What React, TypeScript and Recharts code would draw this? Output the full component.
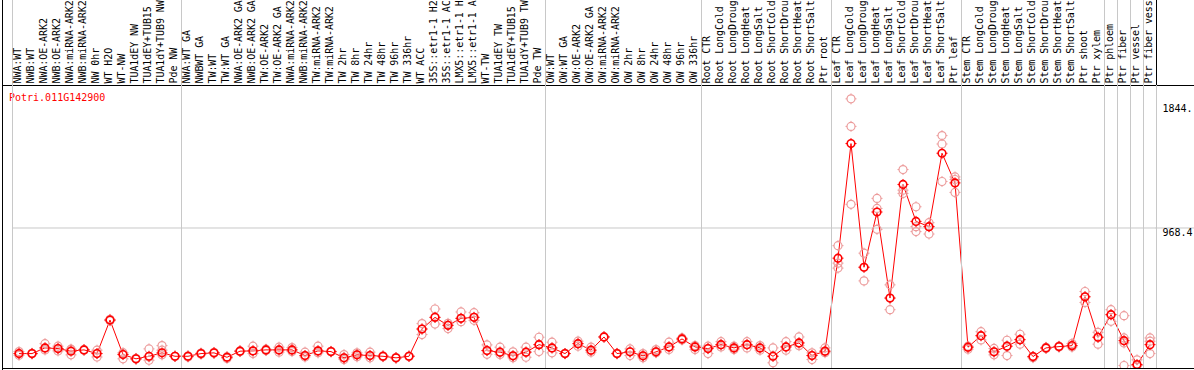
import { ComposedChart, Line, Scatter, XAxis, YAxis, ReferenceLine } from "recharts"

const geneId = "Potri.011G142900"

// sample names as they appear in the fixed-width header (cut to 14 chars)
const samples = [
  "NWA:WT", "NWB:WT", "NWA:OE-ARK2", "NWB:OE-ARK2", "NWA:miRNA-ARK2", "NWB:miRNA-ARK2",
  "NW 0hr", "WT H2O", "WT-NW", "TUA1dEY NW", "TUA1dEY+TUB15", "TUA1dY+TUB9 NW", "Pde NW",
  "NWA:WT GA", "NWBWT GA", "TW:WT", "TW:WT GA", "NWA:OE-ARK2 GA", "NWB:OE-ARK2 GA",
  "TW:OE-ARK2", "TW:OE-ARK2 GA", "NWA:miRNA-ARK2", "NWB:miRNA-ARK2", "TW:miRNA-ARK2",
  "TW:miRNA-ARK2", "TW 2hr", "TW 8hr", "TW 24hr", "TW 48hr", "TW 96hr", "TW 336hr",
  "WT ACC", "35S::etr1-1 H2", "35S::etr1-1 AC", "LMX5::etr1-1 H", "LMX5::etr1-1 A",
  "WT-TW", "TUA1dEY TW", "TUA1dEY+TUB15", "TUA1dY+TUB9 TW", "Pde TW",
  "OW:WT", "OW:WT GA", "OW:OE-ARK2", "OW:OE-ARK2 GA", "OW:miRNA-ARK2", "OW:miRNA-ARK2",
  "OW 2hr", "OW 8hr", "OW 24hr", "OW 48hr", "OW 96hr", "OW 336hr",
  "Root CTR", "Root LongCold", "Root LongDroug", "Root LongHeat", "Root LongSalt",
  "Root ShortCold", "Root ShortDrou", "Root ShortHeat", "Root ShortSalt", "Ptr root",
  "Leaf CTR", "Leaf LongCold", "Leaf LongDroug", "Leaf LongHeat", "Leaf LongSalt",
  "Leaf ShortCold", "Leaf ShortDrou", "Leaf ShortHeat", "Leaf ShortSalt", "Ptr leaf",
  "Stem CTR", "Stem LongCold", "Stem LongDroug", "Stem LongHeat", "Stem LongSalt",
  "Stem ShortCold", "Stem ShortDrou", "Stem ShortHeat", "Stem ShortSalt", "Ptr shoot",
  "Ptr xylem", "Ptr phloem", "Ptr fiber", "Ptr vessel", "Ptr fiber vess",
]

const means = [
  84, 84, 124, 119, 101, 110, 84, 320, 77, 47, 65, 89, 65,
  65, 84, 89, 58, 101, 103, 110, 110, 110, 70, 103, 98, 54, 75, 70, 65, 54, 65,
  257, 339, 283, 332, 339, 105, 94, 68, 94, 147,
  124, 84, 154, 108, 201, 84, 96, 68, 96, 131, 187, 131,
  119, 147, 124, 147, 124, 65, 131, 159, 70, 101,
  756, 1563, 692, 1081, 475, 1275, 1015, 978, 1495, 1286,
  129, 210, 96, 136, 182, 63, 124, 133, 140, 484, 199,
  358, 175, 7, 147,
]

const replicates = [
  [98, 72, 84], [84, 82, 86], [154, 110, 124], [136, 103, 119], [115, 75, 113],
  [112, 108, 110], [108, 60, 84], [325, 315, 320], [47, 90, 80], [50, 45, 47],
  [117, 37, 60], [140, 108, 75], [65, 65, 65],
  [65, 68, 60], [84, 80, 88], [89, 86, 92], [50, 58, 62], [101, 98, 104],
  [136, 84, 103], [110, 105, 115], [129, 94, 110], [126, 98, 110], [94, 70, 60],
  [136, 89, 103], [98, 100, 96], [77, 42, 54], [89, 61, 75], [94, 54, 70],
  [65, 62, 68], [54, 52, 56], [65, 63, 67], [295, 218, 257], [398, 292, 339],
  [297, 260, 283], [377, 309, 332], [372, 318, 339], [145, 79, 105], [129, 77, 94],
  [96, 54, 68], [129, 58, 94], [199, 98, 147],
  [164, 89, 124], [84, 84, 84], [171, 136, 154], [129, 94, 108], [201, 201, 201],
  [84, 82, 86], [117, 70, 96], [84, 54, 68], [112, 96, 90], [164, 112, 131],
  [194, 180, 187], [140, 112, 131],
  [136, 84, 119], [168, 131, 147], [136, 112, 124], [168, 124, 147], [140, 108, 124],
  [124, 19, 65], [168, 108, 131], [201, 140, 159], [89, 42, 70], [124, 100, 90],
  [844, 721, 686], [1878, 1684, 1135], [791, 596, 692], [1177, 1106, 959],
  [568, 393, 475], [1380, 1235, 1212], [1118, 978, 943], [1006, 926, 978],
  [1619, 1560, 1296], [1328, 1310, 1219],
  [136, 115, 129], [238, 180, 210], [120, 75, 96], [178, 70, 136], [220, 150, 182],
  [55, 60, 63], [124, 120, 128], [133, 130, 136], [155, 130, 140], [521, 444, 484],
  [234, 150, 199],
  [393, 311, 358], [351, 194, 159, 0], [40, 0, 0], [194, 171, 84],
]

// first sample index of each tissue block (a grey separator goes before it)
const groupStarts = [0, 13, 41, 53, 63, 73, 84, 85, 86, 87]
const yTicks = [0, 968.4, 1844.8]

const rows = means.map((mean, i) => ({ x: i, mean }))
const repPoints = replicates.flatMap((reps, i) => reps.map((y) => ({ x: i, y })))

const W = 1194
const H = 370
const MONO = "'DejaVu Sans Mono', monospace"
const GRID = "#c8c8c8"
const RED = "#ff0000"
const PINK = "#ec9c9c"
const COL = 13
const LABEL_H = 85
const PLOT_BOTTOM = 368

function SampleTick(props: any) {
  const { x, payload } = props
  const i = payload.value as number
  const left = x - COL / 2
  const right = x + COL / 2
  return (
    <g>
      {groupStarts.includes(i) && (
        <line x1={left} x2={left} y1={0} y2={PLOT_BOTTOM} stroke={GRID} />
      )}
      {i === samples.length - 1 && (
        <>
          <line x1={right} x2={right} y1={LABEL_H} y2={PLOT_BOTTOM} stroke={GRID} />
          <line x1={right} x2={right} y1={0} y2={LABEL_H} stroke="#000" />
        </>
      )}
      <text
        transform={`translate(${x + 2},${LABEL_H - 1.5}) rotate(-90)`}
        fontFamily={MONO}
        fontSize={10}
        letterSpacing={-0.08}
        fill="#000"
      >
        {samples[i]}
      </text>
    </g>
  )
}

function ValueTick(props: any) {
  const { x, y, payload } = props
  const v = payload.value as number
  return (
    <g>
      {v === 968.4 && <line x1={x - 7} x2={W} y1={y} y2={y} stroke={GRID} />}
      <text x={x} y={v === 0 ? y + 1.5 : y + 8.5} fontFamily={MONO} fontSize={10} fill="#000">
        {String(v).slice(0, 5)}
      </text>
    </g>
  )
}

function ticks(cx: number, cy: number, r1: number, r2: number, color: string) {
  return (
    <>
      <line x1={cx} x2={cx} y1={cy - r1} y2={cy - r2} stroke={color} />
      <line x1={cx} x2={cx} y1={cy + r1} y2={cy + r2} stroke={color} />
      <line x1={cx - r1} x2={cx - r2} y1={cy} y2={cy} stroke={color} />
      <line x1={cx + r1} x2={cx + r2} y1={cy} y2={cy} stroke={color} />
    </>
  )
}

function RepDot(props: any) {
  const { cx, cy } = props
  if (cx == null || cy == null) return null
  return (
    <g>
      <circle cx={cx} cy={cy} r={4} fill="none" stroke={PINK} strokeWidth={1.2} />
      {ticks(cx, cy, 4, 5.5, PINK)}
    </g>
  )
}

function MeanDot(props: any) {
  const { cx, cy, index } = props
  if (cx == null || cy == null) return null
  return (
    <g key={`m${index}`}>
      <circle cx={cx} cy={cy} r={3.8} fill="none" stroke={RED} strokeWidth={1.6} />
      {ticks(cx, cy, 3.8, 5.5, RED)}
    </g>
  )
}

export default function App() {
  return (
    <div style={{ width: W, height: H, background: "#fff" }}>
      <style>{"body{margin:0}"}</style>
      <ComposedChart
        width={W}
        height={H}
        data={rows}
        margin={{ top: 0, right: 0, bottom: H - PLOT_BOTTOM, left: 12.5 }}
      >
        <XAxis
          dataKey="x"
          type="number"
          orientation="top"
          domain={[-0.5, 87.5]}
          ticks={rows.map((r) => r.x)}
          interval={0}
          height={LABEL_H}
          axisLine={false}
          tickLine={false}
          tick={<SampleTick />}
          allowDataOverflow
        />
        <YAxis
          type="number"
          orientation="right"
          domain={[-17.6, 1975.5]}
          ticks={yTicks}
          width={37.5}
          axisLine={false}
          tickLine={false}
          tickSize={0}
          tickMargin={6}
          tick={<ValueTick />}
          allowDataOverflow
        />
        <ReferenceLine y={968.4} stroke={GRID} />
        <Scatter
          data={repPoints}
          dataKey="y"
          shape={<RepDot />}
          isAnimationActive={false}
        />
        <Line
          dataKey="mean"
          stroke={RED}
          strokeWidth={1}
          dot={<MeanDot />}
          activeDot={false}
          isAnimationActive={false}
        />
        <line x1={2.5} x2={2.5} y1={0} y2={H} stroke="#000" />
        <line x1={2} x2={W} y1={LABEL_H + 0.5} y2={LABEL_H + 0.5} stroke="#000" />
        <line x1={2} x2={W} y1={PLOT_BOTTOM + 0.5} y2={PLOT_BOTTOM + 0.5} stroke="#000" />
        <text x={9} y={101} fontFamily={MONO} fontSize={10} fill={RED}>
          {geneId}
        </text>
      </ComposedChart>
    </div>
  )
}
